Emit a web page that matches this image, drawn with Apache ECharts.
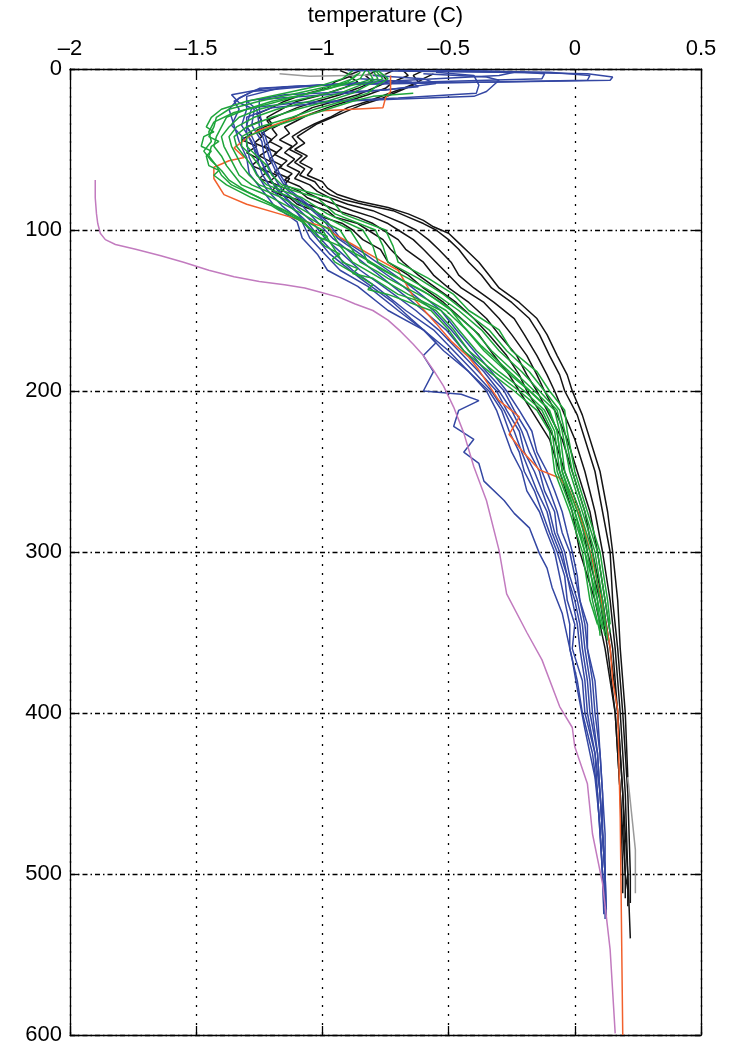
<!DOCTYPE html>
<html>
<head>
<meta charset="utf-8">
<script src="https://cdn.jsdelivr.net/npm/echarts/dist/echarts.min.js"></script>
<style>
html,body{margin:0;padding:0;background:#fff;}
#chart{width:734px;height:1048px;}
</style>
</head>
<body>
<div id="chart"></div>
<script>
// ---- axis ticks ----
const X_TICKS = [-2, -1.5, -1, -0.5, 0, 0.5];
const Y_TICKS = [0, 100, 200, 300, 400, 500, 600];
const X_TITLE = 'temperature (C)';

// ---- profiles: [temperature (C), depth (m)] ----
const BLACK = [
  [[-0.93,1],[-0.88,4],[-0.95,8],[-0.98,12],[-1.08,16],[-1.15,20],[-1.2,24],[-1.26,28],[-1.24,32],[-1.3,36],[-1.28,40],[-1.32,44],[-1.26,48],[-1.3,52],[-1.25,56],[-1.28,60],[-1.22,64],[-1.25,68],[-1.18,72],[-1.2,76],[-1.13,80],[-1.1,84],[-1.03,88],[-1.0,92],[-0.92,96],[-0.88,100],[-0.84,106],[-0.77,112],[-0.74,120],[-0.66,128],[-0.6,136],[-0.52,145],[-0.45,155],[-0.38,165],[-0.32,178],[-0.26,190],[-0.22,200],[-0.16,215],[-0.1,230],[-0.06,250],[-0.01,275],[0.02,300],[0.08,330],[0.12,360],[0.16,400],[0.18,450],[0.19,500],[0.19,512]],
  [[-0.85,1],[-0.9,4],[-0.86,8],[-0.92,12],[-1.0,16],[-1.1,20],[-1.15,24],[-1.22,30],[-1.2,34],[-1.26,38],[-1.24,42],[-1.27,46],[-1.21,50],[-1.25,54],[-1.2,58],[-1.24,62],[-1.18,66],[-1.21,70],[-1.15,74],[-1.17,78],[-1.1,81],[-1.06,84],[-0.98,88],[-0.95,92],[-0.86,96],[-0.82,100],[-0.76,106],[-0.73,112],[-0.68,120],[-0.62,128],[-0.55,136],[-0.47,145],[-0.4,155],[-0.34,165],[-0.27,178],[-0.22,190],[-0.19,200],[-0.13,215],[-0.08,230],[-0.04,250],[0.02,275],[0.05,300],[0.1,330],[0.13,360],[0.16,400],[0.18,450],[0.2,500],[0.2,515]],
  [[-0.78,1],[-0.83,4],[-0.8,8],[-0.86,12],[-0.93,16],[-1.02,20],[-1.1,24],[-1.16,28],[-1.22,32],[-1.2,36],[-1.24,40],[-1.2,44],[-1.23,48],[-1.18,52],[-1.21,56],[-1.16,60],[-1.19,64],[-1.13,68],[-1.15,72],[-1.09,76],[-1.06,80],[-1.0,84],[-0.94,88],[-0.86,92],[-0.8,96],[-0.76,100],[-0.7,106],[-0.67,112],[-0.6,120],[-0.56,128],[-0.5,136],[-0.42,145],[-0.35,155],[-0.3,165],[-0.23,178],[-0.19,190],[-0.15,200],[-0.1,215],[-0.05,230],[-0.01,250],[0.04,275],[0.07,300],[0.11,330],[0.14,360],[0.17,400],[0.19,450],[0.2,500],[0.21,510]],
  [[-0.72,1],[-0.76,4],[-0.74,8],[-0.8,12],[-0.86,16],[-0.95,20],[-1.04,24],[-1.1,29],[-1.15,33],[-1.2,37],[-1.18,41],[-1.21,45],[-1.16,49],[-1.19,53],[-1.14,57],[-1.17,61],[-1.12,65],[-1.15,69],[-1.09,73],[-1.06,77],[-1.02,80],[-0.95,84],[-0.88,88],[-0.8,92],[-0.74,96],[-0.7,100],[-0.64,106],[-0.6,112],[-0.55,120],[-0.5,128],[-0.45,136],[-0.36,145],[-0.3,155],[-0.25,165],[-0.19,178],[-0.15,190],[-0.12,200],[-0.07,215],[-0.03,230],[0.01,250],[0.06,275],[0.09,300],[0.12,330],[0.15,360],[0.17,400],[0.19,450],[0.21,500],[0.21,520]],
  [[-0.68,1],[-0.66,4],[-0.72,8],[-0.75,12],[-0.82,16],[-0.9,20],[-0.98,24],[-1.05,28],[-1.1,32],[-1.15,36],[-1.13,40],[-1.17,44],[-1.12,48],[-1.15,52],[-1.11,56],[-1.14,60],[-1.09,64],[-1.11,68],[-1.05,72],[-1.02,76],[-0.97,80],[-0.9,84],[-0.8,88],[-0.74,92],[-0.68,96],[-0.63,100],[-0.58,106],[-0.54,112],[-0.49,120],[-0.46,128],[-0.4,136],[-0.32,145],[-0.24,155],[-0.2,165],[-0.15,178],[-0.11,190],[-0.08,200],[-0.04,215],[0.0,230],[0.04,250],[0.08,275],[0.11,300],[0.14,330],[0.16,360],[0.18,400],[0.2,450],[0.21,500],[0.22,540]],
  [[-0.6,1],[-0.64,4],[-0.62,8],[-0.68,12],[-0.75,16],[-0.82,20],[-0.9,24],[-0.97,30],[-1.03,34],[-1.08,38],[-1.12,42],[-1.1,46],[-1.13,50],[-1.08,54],[-1.11,58],[-1.07,62],[-1.09,66],[-1.03,70],[-1.01,74],[-0.97,78],[-0.92,81],[-0.84,84],[-0.72,88],[-0.66,92],[-0.6,96],[-0.55,100],[-0.5,106],[-0.46,112],[-0.42,120],[-0.37,128],[-0.33,136],[-0.25,145],[-0.18,155],[-0.14,165],[-0.1,178],[-0.06,190],[-0.04,200],[0.01,215],[0.04,230],[0.08,250],[0.11,275],[0.14,300],[0.15,330],[0.17,360],[0.19,400],[0.21,450],[0.22,500],[0.22,518]],
  [[-0.56,3],[-0.6,6],[-0.64,10],[-0.7,14],[-0.76,18],[-0.84,22],[-0.9,26],[-0.96,30],[-1.02,34],[-1.06,38],[-1.1,42],[-1.07,46],[-1.11,50],[-1.06,54],[-1.09,58],[-1.04,62],[-1.06,66],[-1.0,70],[-0.98,74],[-0.94,78],[-0.86,82],[-0.74,86],[-0.66,90],[-0.6,94],[-0.56,98],[-0.5,102],[-0.46,108],[-0.42,114],[-0.38,120],[-0.34,128],[-0.3,136],[-0.22,145],[-0.15,155],[-0.11,165],[-0.07,178],[-0.03,190],[-0.01,200],[0.03,215],[0.06,230],[0.1,250],[0.13,275],[0.15,300],[0.17,330],[0.18,360],[0.2,400],[0.21,440]]
];
const GRAY = [
  [[-1.17,3],[-1.05,4.5],[-0.9,4],[-0.75,3.5]],
  [[0.21,440],[0.23,470],[0.24,485],[0.24,512]]
];
const BLUE = [
  [[-0.9,1],[-0.3,2],[0.05,3],[0.15,5],[0.14,7],[-0.3,8],[-0.9,9],[-1.25,12],[-1.33,18],[-1.37,25],[-1.35,35],[-1.33,45],[-1.3,55],[-1.29,65],[-1.24,75],[-1.19,85],[-1.1,95],[-1.08,105],[-1.02,115],[-0.98,125],[-0.86,135],[-0.74,150],[-0.6,162],[-0.52,175],[-0.42,188],[-0.35,200],[-0.31,212],[-0.28,225],[-0.25,238],[-0.21,250],[-0.19,262],[-0.14,275],[-0.11,288],[-0.08,300],[-0.06,315],[-0.04,330],[-0.02,345],[-0.02,360],[0.01,380],[0.03,400],[0.07,425],[0.09,450],[0.1,475],[0.11,500],[0.115,525]],
  [[-0.55,1],[-0.1,2],[0.06,4],[0.05,7],[-0.5,8.5],[-1.0,10],[-1.28,14],[-1.35,20],[-1.33,25],[-1.36,35],[-1.3,45],[-1.29,55],[-1.26,65],[-1.22,75],[-1.16,85],[-1.08,95],[-1.05,105],[-0.99,115],[-0.93,125],[-0.82,135],[-0.7,150],[-0.6,162],[-0.5,175],[-0.42,188],[-0.34,200],[-0.29,212],[-0.26,225],[-0.22,238],[-0.2,250],[-0.16,262],[-0.13,275],[-0.1,288],[-0.07,300],[-0.04,315],[-0.03,330],[0.0,345],[-0.01,360],[0.03,380],[0.04,400],[0.08,425],[0.09,450],[0.1,475],[0.11,500],[0.118,520]],
  [[-0.45,1],[-0.2,2],[-0.12,3],[-0.13,6],[-0.6,8],[-1.15,11],[-1.3,17],[-1.3,25],[-1.32,35],[-1.28,45],[-1.26,55],[-1.24,65],[-1.2,75],[-1.13,85],[-1.06,95],[-1.01,105],[-0.95,115],[-0.88,125],[-0.79,135],[-0.67,150],[-0.56,162],[-0.48,175],[-0.4,188],[-0.33,200],[-0.28,212],[-0.24,225],[-0.21,238],[-0.18,250],[-0.15,262],[-0.11,275],[-0.09,288],[-0.06,300],[-0.03,315],[-0.01,330],[0.01,345],[0.02,360],[0.04,380],[0.05,400],[0.08,425],[0.1,450],[0.11,475],[0.12,500],[0.12,528]],
  [[-0.55,2],[-0.4,4],[-0.38,10],[-0.39,15],[-0.7,18],[-1.1,21],[-1.28,24],[-1.3,35],[-1.27,45],[-1.25,55],[-1.22,65],[-1.18,75],[-1.11,85],[-1.04,95],[-0.99,105],[-0.92,115],[-0.85,125],[-0.76,135],[-0.63,150],[-0.54,162],[-0.46,175],[-0.38,188],[-0.31,200],[-0.27,212],[-0.22,225],[-0.2,238],[-0.16,250],[-0.13,262],[-0.1,275],[-0.08,288],[-0.05,300],[-0.03,315],[0.0,330],[0.02,345],[0.03,360],[0.05,380],[0.06,400],[0.09,425],[0.1,450],[0.11,475],[0.12,500],[0.12,520]],
  [[-0.7,1],[-0.24,2],[-0.3,4],[-0.8,8],[-1.22,12],[-1.36,16],[-1.33,21],[-1.27,25],[-1.28,35],[-1.24,45],[-1.23,55],[-1.2,65],[-1.16,75],[-1.08,85],[-1.02,95],[-0.96,105],[-0.88,115],[-0.8,125],[-0.72,135],[-0.6,150],[-0.51,162],[-0.44,175],[-0.36,188],[-0.3,200],[-0.25,212],[-0.21,225],[-0.18,238],[-0.14,250],[-0.12,262],[-0.08,275],[-0.07,288],[-0.04,300],[-0.02,315],[0.01,330],[0.03,345],[0.04,360],[0.06,380],[0.07,400],[0.09,425],[0.1,450],[0.11,475],[0.12,500],[0.125,526]],
  [[-0.8,4],[-0.6,6],[-0.55,9],[-0.75,13],[-1.15,16],[-1.3,20],[-1.26,25],[-1.25,35],[-1.23,45],[-1.21,55],[-1.18,65],[-1.14,75],[-1.06,85],[-0.99,95],[-0.94,105],[-0.85,115],[-0.77,125],[-0.68,135],[-0.56,150],[-0.49,162],[-0.42,175],[-0.35,188],[-0.28,200],[-0.24,212],[-0.19,225],[-0.16,238],[-0.13,250],[-0.1,262],[-0.07,275],[-0.05,288],[-0.02,300],[0.0,315],[0.02,330],[0.04,345],[0.05,360],[0.07,380],[0.08,400],[0.1,425],[0.11,450],[0.11,475],[0.12,500],[0.12,518]],
  [[-0.85,6],[-0.65,8],[-0.62,11],[-0.9,15],[-1.25,19],[-1.25,25],[-1.24,35],[-1.22,45],[-1.2,55],[-1.17,65],[-1.13,75],[-1.05,85],[-0.98,95],[-0.93,105],[-0.83,115],[-0.74,125],[-0.65,135],[-0.53,150],[-0.47,162],[-0.4,175],[-0.33,188],[-0.27,200],[-0.22,212],[-0.17,225],[-0.15,238],[-0.11,250],[-0.08,262],[-0.05,275],[-0.03,288],[-0.01,300],[0.01,315],[0.02,330],[0.05,345],[0.05,360],[0.08,380],[0.09,400],[0.1,425],[0.11,450],[0.12,475],[0.12,500],[0.125,522]],
  [[-0.6,3],[-0.35,5],[-0.3,7],[-0.35,14],[-0.4,17],[-0.93,20],[-1.2,24],[-1.3,30],[-1.3,40],[-1.25,55],[-1.2,70],[-1.12,85],[-1.05,100],[-0.97,115],[-0.85,130],[-0.72,145],[-0.65,155],[-0.6,162],[-0.55,170],[-0.6,178],[-0.56,188],[-0.6,200],[-0.45,202],[-0.38,206],[-0.46,212],[-0.48,222],[-0.4,230],[-0.44,238],[-0.38,245],[-0.36,256],[-0.28,268],[-0.24,276],[-0.18,285],[-0.14,301],[-0.11,310],[-0.09,322],[-0.05,338],[-0.01,367],[0.01,385],[0.04,410],[0.08,440],[0.1,470],[0.11,500],[0.115,520]]
];
const GREEN = [
  [[-0.88,1],[-0.92,6],[-1.0,10],[-1.15,15],[-1.3,20],[-1.4,25],[-1.44,30],[-1.46,36],[-1.43,39],[-1.47,42],[-1.48,48],[-1.44,51],[-1.46,54],[-1.45,60],[-1.41,63],[-1.43,66],[-1.38,72],[-1.28,80],[-1.2,85],[-1.17,88],[-1.14,90],[-1.08,95],[-1.06,98],[-1.04,100],[-0.98,104],[-1.01,107],[-0.99,110],[-0.93,115],[-0.96,118],[-0.95,120],[-0.84,130],[-0.8,134],[-0.82,137],[-0.74,140],[-0.57,150],[-0.5,162],[-0.44,175],[-0.34,188],[-0.24,200],[-0.15,212],[-0.1,225],[-0.08,250],[-0.02,275],[0.03,300],[0.06,330],[0.09,345]],
  [[-0.85,2],[-0.88,6],[-0.95,10],[-1.1,15],[-1.25,20],[-1.37,25],[-1.42,30],[-1.43,36],[-1.45,42],[-1.41,45],[-1.44,48],[-1.45,54],[-1.42,60],[-1.4,66],[-1.36,72],[-1.25,80],[-1.12,90],[-1.0,100],[-0.96,110],[-0.92,120],[-0.86,124],[-0.88,127],[-0.8,130],[-0.7,140],[-0.62,144],[-0.55,150],[-0.48,162],[-0.42,175],[-0.32,188],[-0.22,200],[-0.13,212],[-0.09,225],[-0.07,250],[-0.01,275],[0.04,300],[0.07,330],[0.1,350]],
  [[-0.83,1],[-0.85,6],[-0.92,10],[-1.05,15],[-1.2,20],[-1.3,25],[-1.38,30],[-1.4,36],[-1.42,42],[-1.43,48],[-1.4,54],[-1.38,60],[-1.35,66],[-1.32,72],[-1.24,77],[-1.2,80],[-1.08,90],[-0.97,100],[-0.93,110],[-0.88,120],[-0.77,130],[-0.66,140],[-0.53,150],[-0.49,156],[-0.46,162],[-0.39,175],[-0.3,188],[-0.2,200],[-0.12,212],[-0.08,225],[-0.06,250],[0.0,275],[0.05,300],[0.08,330],[0.11,348]],
  [[-0.82,1],[-0.8,6],[-0.88,10],[-0.98,15],[-1.12,20],[-1.25,25],[-1.33,30],[-1.37,36],[-1.4,42],[-1.39,48],[-1.37,54],[-1.35,60],[-1.33,66],[-1.28,72],[-1.16,80],[-1.05,90],[-0.98,96],[-0.93,100],[-0.89,110],[-0.85,120],[-0.78,126],[-0.74,130],[-0.62,140],[-0.51,150],[-0.43,162],[-0.36,175],[-0.27,188],[-0.18,200],[-0.1,212],[-0.07,225],[-0.05,250],[0.01,275],[0.06,300],[0.09,330],[0.12,352]],
  [[-0.8,1],[-0.78,6],[-0.85,10],[-0.93,15],[-1.05,20],[-1.18,25],[-1.27,30],[-1.34,36],[-1.37,42],[-1.36,48],[-1.34,54],[-1.32,60],[-1.29,66],[-1.25,72],[-1.12,80],[-1.01,90],[-0.89,100],[-0.85,110],[-0.82,120],[-0.7,130],[-0.58,140],[-0.49,150],[-0.4,162],[-0.33,175],[-0.24,188],[-0.16,200],[-0.08,212],[-0.06,225],[-0.04,250],[0.02,275],[0.07,300],[0.1,330],[0.12,346]],
  [[-0.79,1],[-0.76,6],[-0.82,10],[-0.88,15],[-0.98,20],[-1.1,25],[-1.2,30],[-1.3,36],[-1.35,42],[-1.34,48],[-1.31,54],[-1.28,60],[-1.26,66],[-1.22,72],[-1.08,80],[-0.98,90],[-0.84,100],[-0.8,110],[-0.78,120],[-0.66,130],[-0.55,140],[-0.46,150],[-0.37,162],[-0.3,175],[-0.21,188],[-0.14,200],[-0.07,212],[-0.05,225],[-0.02,250],[0.03,275],[0.08,300],[0.11,330],[0.13,355]],
  [[-0.78,1],[-0.74,6],[-0.78,10],[-0.82,15],[-0.92,20],[-1.03,25],[-1.12,30],[-1.25,36],[-1.32,42],[-1.32,48],[-1.28,54],[-1.25,60],[-1.22,66],[-1.19,72],[-1.02,80],[-0.95,90],[-0.79,100],[-0.76,110],[-0.74,120],[-0.62,130],[-0.52,140],[-0.44,150],[-0.34,162],[-0.27,175],[-0.18,188],[-0.12,200],[-0.06,212],[-0.04,225],[-0.01,250],[0.04,275],[0.09,300],[0.12,330],[0.14,350]],
  [[-0.64,15],[-0.8,17],[-0.88,20],[-0.98,25],[-1.08,30],[-1.2,36],[-1.3,42],[-1.3,48],[-1.26,54],[-1.22,60],[-1.2,66],[-1.16,72],[-0.97,80],[-0.92,90],[-0.75,100],[-0.72,110],[-0.7,120],[-0.58,130],[-0.48,140],[-0.42,150],[-0.3,162],[-0.25,175],[-0.15,188],[-0.1,200],[-0.04,212],[-0.03,225],[0.0,250],[0.05,275],[0.1,300],[0.13,330],[0.14,345]],
  [[-0.86,3],[-0.9,8],[-0.97,12],[-1.1,17],[-1.22,22],[-1.35,27],[-1.43,33],[-1.45,39],[-1.44,45],[-1.47,51],[-1.44,57],[-1.4,63],[-1.37,69],[-1.3,76],[-1.2,84],[-1.08,94],[-1.02,104],[-0.9,112],[-0.83,118],[-0.72,128],[-0.6,138],[-0.5,148],[-0.44,160],[-0.37,172],[-0.28,185],[-0.19,198],[-0.11,210],[-0.07,225],[-0.05,250],[0.0,275],[0.04,300],[0.09,330],[0.1,352]]
];
const ORANGE = [[-0.73,4],[-0.73,14],[-0.75,18],[-0.76,24],[-1.0,26],[-1.14,32],[-1.25,38],[-1.3,43],[-1.35,49],[-1.31,55],[-1.37,57],[-1.43,61],[-1.43,68],[-1.39,78],[-1.3,84],[-1.17,90],[-1.04,96],[-0.97,99],[-0.96,102],[-0.88,109],[-0.77,119],[-0.7,125],[-0.63,144],[-0.55,158],[-0.49,169],[-0.42,179],[-0.38,187],[-0.3,206],[-0.22,216],[-0.26,227],[-0.21,237],[-0.14,249],[-0.06,254],[-0.02,262],[0.03,282],[0.07,305],[0.11,334],[0.14,359],[0.15,380],[0.17,398],[0.18,465],[0.19,600]];
const MAGENTA = [[-1.9,69],[-1.9,80],[-1.895,90],[-1.89,96],[-1.88,102],[-1.86,106],[-1.82,109],[-1.74,112],[-1.64,116],[-1.55,120],[-1.45,125],[-1.35,129],[-1.25,132],[-1.15,134],[-1.07,136],[-1.0,139],[-0.93,142],[-0.87,146],[-0.8,150],[-0.74,156],[-0.69,163],[-0.64,171],[-0.6,178],[-0.56,187],[-0.52,197],[-0.48,210],[-0.44,226],[-0.4,247],[-0.35,268],[-0.3,299],[-0.27,326],[-0.19,350],[-0.13,367],[-0.06,396],[-0.01,409],[0.0,421],[0.05,444],[0.07,475],[0.11,506],[0.14,547],[0.16,599]];

const COLORS = {black:'#141414', gray:'#9a9a9a', blue:'#3447a3', green:'#1ea53a', orange:'#f2602c', magenta:'#c27bbf'};

function lineSeries(data, color, width){
  return {type:'line', data:data, showSymbol:false, symbol:'none', silent:true,
          lineStyle:{color:color, width:width||1.5}, xAxisIndex:0, yAxisIndex:0, animation:false};
}
const series = [];
BLACK.forEach(p => series.push(lineSeries(p, COLORS.black)));
GRAY.forEach(p => series.push(lineSeries(p, COLORS.gray)));
BLUE.forEach(p => series.push(lineSeries(p, COLORS.blue)));
series.push(lineSeries(ORANGE, COLORS.orange));
GREEN.forEach(p => series.push(lineSeries(p, COLORS.green)));
series.push(lineSeries(MAGENTA, COLORS.magenta));

const FONT = 'Liberation Sans';
const fmtX = v => (v < 0 ? '\u2013' + Math.abs(v) : String(v));
const xMin = X_TICKS[0], xMax = X_TICKS[X_TICKS.length-1], xInt = X_TICKS[1]-X_TICKS[0];
const yMin = Y_TICKS[0], yMax = Y_TICKS[Y_TICKS.length-1], yInt = Y_TICKS[1]-Y_TICKS[0];

const chart = echarts.init(document.getElementById('chart'), null, {renderer:'canvas'});
chart.setOption({
  animation:false,
  backgroundColor:'#fff',
  grid:{left:70, right:33, top:68, bottom:13, containLabel:false},
  xAxis:[
    {type:'value', position:'top', min:xMin, max:xMax, interval:xInt,
     name:X_TITLE, nameLocation:'middle', nameGap:42,
     nameTextStyle:{fontFamily:FONT, fontSize:22, color:'#000'},
     axisLine:{show:true, onZero:false, lineStyle:{color:'#000', width:1.3}},
     axisTick:{show:true, inside:true, length:9, lineStyle:{color:'#000', width:1.3}},
     axisLabel:{formatter:fmtX, fontFamily:FONT, fontSize:22, color:'#000', margin:9},
     splitLine:{show:true, lineStyle:{color:'#000', width:1.3, type:[2,7]}}},
    {type:'value', position:'bottom', min:xMin, max:xMax, interval:xInt,
     axisLine:{show:true, onZero:false, lineStyle:{color:'#000', width:1.3}},
     axisTick:{show:true, inside:true, length:9, lineStyle:{color:'#000', width:1.3}},
     axisLabel:{show:false}, splitLine:{show:false}}
  ],
  yAxis:[
    {type:'value', inverse:true, position:'left', min:yMin, max:yMax, interval:yInt,
     axisLine:{show:true, onZero:false, lineStyle:{color:'#000', width:1.3}},
     axisTick:{show:true, inside:true, length:9, lineStyle:{color:'#000', width:1.3}},
     axisLabel:{fontFamily:FONT, fontSize:22, color:'#000', margin:8},
     splitLine:{show:true, lineStyle:{color:'#000', width:1.3, type:[5,3,1.5,3]}}},
    {type:'value', inverse:true, position:'right', min:yMin, max:yMax, interval:yInt,
     axisLine:{show:true, onZero:false, lineStyle:{color:'#000', width:1.3}},
     axisTick:{show:true, inside:true, length:9, lineStyle:{color:'#000', width:1.3}},
     axisLabel:{show:false}, splitLine:{show:false}}
  ],
  series:series
});
</script>
</body>
</html>
